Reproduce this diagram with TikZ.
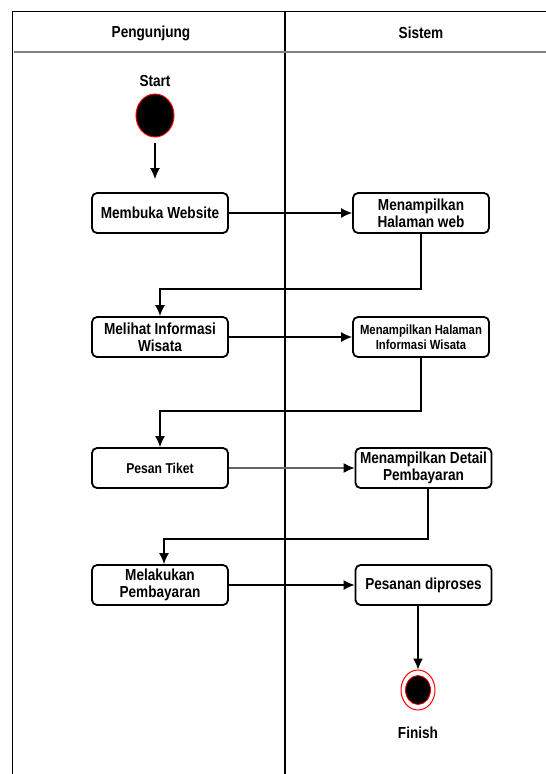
\documentclass[tikz,border=0pt]{standalone}
\usepackage{fontspec}
\setmainfont[FakeStretch=0.85]{Liberation Sans}
\usetikzlibrary{shapes.geometric,arrows.meta}

\begin{document}
\begin{tikzpicture}[x=1pt,y=-1pt]
  \tikzset{
    act/.style={draw,rounded corners=5pt,line width=1.8pt,minimum width=136pt,
      minimum height=40pt,align=center,inner sep=2pt,
      font=\fontsize{16}{17}\bfseries\selectfont},
    lbl/.style={font=\fontsize{16}{17}\bfseries\selectfont},
    flow/.style={line width=1.3pt,-{Latex[length=11pt,width=10pt]}},
    lane/.style={line width=1.5pt}
  }
  \useasboundingbox (0,0) rectangle (546,774);
  % swimlanes
  \draw[lane] (12.5,774) -- (12.5,11.5) -- (546,11.5);
  \draw[lane] (285,11.5) -- (285,774);
  \draw[line width=2pt,gray] (14,52) -- (546,52);
  \node[lbl] (hvisit) at (151,33) {Pengunjung};
  \node[lbl] (hsys) at (421,33) {Sistem};
  % start / finish
  \node[lbl] (lstart) at (155,81) {Start};
  \node[ellipse,draw=red,fill=black,line width=1pt,inner sep=0pt,
    minimum width=38pt,minimum height=43pt] (start) at (155,115.5) {};
  \node[ellipse,draw=red,fill=white,line width=1pt,inner sep=0pt,
    minimum width=34pt,minimum height=40pt] (fin) at (418,690) {};
  \node[ellipse,draw=red,fill=black,line width=0.8pt,inner sep=0pt,
    minimum width=25pt,minimum height=29pt] (fincore) at (fin) {};
  \node[lbl] (lfin) at (418,733) {Finish};
  % actions
  \node[act] (open) at (160,213) {Membuka Website};
  \node[act] (web) at (421,213) {Menampilkan\\Halaman web};
  \node[act] (info) at (160,337) {Melihat Informasi\\Wisata};
  \node[act,font=\fontsize{13.3}{15}\bfseries\selectfont] (infosys) at (421,337)
    {Menampilkan Halaman\\Informasi Wisata};
  \node[act,font=\fontsize{14.3}{15}\bfseries\selectfont] (tiket) at (160,468) {Pesan Tiket};
  \node[act] (detail) at (423.5,468) {Menampilkan Detail\\Pembayaran};
  \node[act] (pay) at (160,585) {Melakukan\\Pembayaran};
  \node[act] (proses) at (423.5,585) {Pesanan diproses};
  % flows
  \draw[flow,shorten <=5pt,shorten >=13pt] (start) -- (start |- open.north);
  \draw[flow] (open) -- (web);
  \draw[flow] (web.south) -- ++(0,55) -| (info.north);
  \draw[flow] (info) -- (infosys);
  \draw[flow] (infosys.south) -- ++(0,53) -| (tiket.north);
  \draw[line width=1.6pt,draw=black!60,-{Latex[length=11pt,width=10pt,color=black]}]
    (tiket) -- (detail);
  \draw[flow] ([xshift=4.5pt]detail.south) -- ++(0,50) -| ([xshift=4pt]pay.north);
  \draw[flow] (pay) -- (proses);
  \draw[flow] ([xshift=-5.5pt]proses.south) -- (fin.north);
\end{tikzpicture}
\end{document}
